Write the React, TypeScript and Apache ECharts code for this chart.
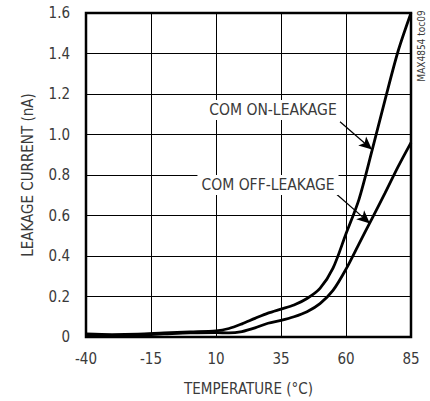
import React, { useEffect, useRef } from "react";
import * as echarts from "echarts";

const temps = [-40, -30, -20, -10, 0, 10, 15, 20, 25, 30, 35, 40, 45, 50, 55, 60, 65, 70, 75, 80, 85];
const onLeakage = [0.015, 0.012, 0.014, 0.02, 0.025, 0.03, 0.042, 0.065, 0.092, 0.118, 0.138, 0.158, 0.19, 0.24, 0.34, 0.51, 0.68, 0.92, 1.17, 1.41, 1.6];
const offLeakage = [0.008, 0.006, 0.01, 0.015, 0.02, 0.022, 0.02, 0.027, 0.045, 0.068, 0.082, 0.1, 0.125, 0.165, 0.23, 0.335, 0.46, 0.585, 0.71, 0.84, 0.96];
const xTicks = [-40, -15, 10, 35, 60, 85];
const yTickLabels = ["0", "0.2", "0.4", "0.6", "0.8", "1.0", "1.2", "1.4", "1.6"];
const onArrow = [[57.7, 1.063], [70, 0.926]];
const offArrow = [[56.5, 0.704], [69.2, 0.561]];

const FONT = '"Liberation Sans Narrow", "DejaVu Sans Condensed", "Arial Narrow", sans-serif';
const TXT = "#3a3a3a";

export default function App() {
  const ref = useRef<HTMLDivElement>(null);
  useEffect(() => {
    document.body.style.margin = "0";
    const chart = echarts.init(ref.current!, null, { renderer: "svg" });
    const pairs = (ys: number[]) => temps.map((t, i) => [t, ys[i]]);
    chart.setOption({
      animation: false,
      backgroundColor: "#ffffff",
      grid: {
        left: 86,
        right: 19,
        top: 13,
        bottom: 63,
        show: true,
        borderColor: "#000",
        borderWidth: 2.5,
        backgroundColor: "transparent",
      },
      xAxis: {
        type: "value",
        min: xTicks[0],
        max: xTicks[xTicks.length - 1],
        interval: 25,
        axisLine: { show: false },
        axisTick: { show: false },
        splitLine: { show: true, lineStyle: { color: "#000", width: 1 } },
        axisLabel: { color: TXT, fontFamily: FONT, fontSize: 15, margin: 14 },
        name: "TEMPERATURE (°C)",
        nameLocation: "middle",
        nameGap: 44,
        nameTextStyle: { color: TXT, fontFamily: FONT, fontSize: 15 },
      },
      yAxis: {
        type: "value",
        min: 0,
        max: 1.6,
        interval: 0.2,
        axisLine: { show: false },
        axisTick: { show: false },
        splitLine: { show: true, lineStyle: { color: "#000", width: 1 } },
        axisLabel: {
          color: TXT,
          fontFamily: FONT,
          fontSize: 15,
          margin: 16,
          formatter: (v: number) => yTickLabels[Math.round(v / 0.2)] ?? String(v),
        },
        name: "LEAKAGE CURRENT (nA)",
        nameLocation: "middle",
        nameGap: 51,
        nameTextStyle: { color: TXT, fontFamily: FONT, fontSize: 15 },
      },
      series: [
        {
          type: "line",
          name: "COM ON-LEAKAGE",
          data: pairs(onLeakage),
          smooth: 0.3,
          showSymbol: false,
          lineStyle: { color: "#000", width: 2.8 },
          z: 3,
          markLine: {
            silent: true,
            symbol: ["none", "arrow"],
            symbolSize: [9, 13],
            label: { show: false },
            lineStyle: { color: "#000", width: 1.2, type: "solid" },
            data: [
              [{ coord: onArrow[0] }, { coord: onArrow[1] }],
              [{ coord: offArrow[0] }, { coord: offArrow[1] }],
            ],
          },
        },
        {
          type: "line",
          name: "COM OFF-LEAKAGE",
          data: pairs(offLeakage),
          smooth: 0.3,
          showSymbol: false,
          lineStyle: { color: "#000", width: 2.8 },
          z: 3,
        },
      ],
      graphic: [
        {
          type: "text",
          z: 10,
          style: {
            text: "COM ON-LEAKAGE",
            x: 273,
            y: 110,
            textAlign: "center",
            textVerticalAlign: "middle",
            fill: TXT,
            font: `15.5px ${FONT}`,
            backgroundColor: "#fff",
            padding: [2, 4],
          },
        },
        {
          type: "text",
          z: 10,
          style: {
            text: "COM OFF-LEAKAGE",
            x: 268,
            y: 185,
            textAlign: "center",
            textVerticalAlign: "middle",
            fill: TXT,
            font: `15.5px ${FONT}`,
            backgroundColor: "#fff",
            padding: [2, 4],
          },
        },
        {
          type: "text",
          x: 421,
          y: 46,
          rotation: Math.PI / 2,
          style: {
            text: "MAX4854 toc09",
            textAlign: "center",
            textVerticalAlign: "middle",
            fill: TXT,
            font: `10px ${FONT}`,
          },
        },
      ],
    });
    return () => chart.dispose();
  }, []);
  return <div ref={ref} style={{ position: "absolute", left: 0, top: 0, width: 430, height: 401 }} />;
}
